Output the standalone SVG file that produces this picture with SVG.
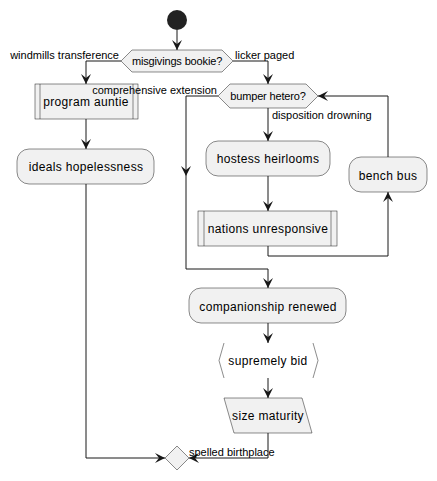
<svg xmlns="http://www.w3.org/2000/svg" width="437" height="481" viewBox="0 0 437 481">
<style>
.n{fill:#F1F1F1;stroke:#181818;stroke-width:0.5}
.t{font-family:"Liberation Sans",Arial,sans-serif;font-size:12px;letter-spacing:0.35px;fill:#000;text-anchor:middle}
.d{font-family:"Liberation Sans",Arial,sans-serif;font-size:11px;letter-spacing:-0.15px;fill:#000;text-anchor:middle}
.l{font-family:"Liberation Sans",Arial,sans-serif;font-size:11px;fill:#000}
.c{fill:none;stroke:#181818;stroke-width:1}
</style>
<defs>
<marker id="a" viewBox="0 0 10 10" markerWidth="10" markerHeight="10" markerUnits="userSpaceOnUse" refX="10" refY="5" orient="auto">
<path d="M0,0 L10,5 L0,10 L4,5 Z" fill="#181818"/>
</marker>
</defs>
<rect width="437" height="481" fill="#FFFFFF"/>
<g id="connectors">
<path class="c" d="M177,30 L177,50" marker-end="url(#a)"/>
<path class="c" d="M121,61 L86,61 L86,84" marker-end="url(#a)"/>
<path class="c" d="M86,119 L86,149" marker-end="url(#a)"/>
<path class="c" d="M86,184 L86,458 L165,458" marker-end="url(#a)"/>
<path class="c" d="M233,61 L268,61 L268,84" marker-end="url(#a)"/>
<path class="c" d="M218,96 L186,96 L186,176" marker-end="url(#a)"/>
<path class="c" d="M186,176 L186,269 L268,269 L268,288" marker-end="url(#a)"/>
<path class="c" d="M268,108 L268,141" marker-end="url(#a)"/>
<path class="c" d="M268,176 L268,211" marker-end="url(#a)"/>
<path class="c" d="M268,246 L268,256 L388,256 L388,192" marker-end="url(#a)"/>
<path class="c" d="M388,157 L388,96 L318,96" marker-end="url(#a)"/>
<path class="c" d="M268,323 L268,343" marker-end="url(#a)"/>
<path class="c" d="M268,378 L268,398" marker-end="url(#a)"/>
<path class="c" d="M268,433 L268,458 L189,458" marker-end="url(#a)"/>
</g>
<g id="start"><circle cx="177" cy="20" r="10" fill="#222222"/></g>
<g id="misgivings"><polygon class="n" points="121,61 132,50 222,50 233,61 222,72 132,72"/><text class="d" x="177" y="65">misgivings bookie?</text></g>
<g id="program"><rect class="n" x="35" y="84" width="103" height="35"/><line class="n" x1="40" y1="84" x2="40" y2="119"/><line class="n" x1="133" y1="84" x2="133" y2="119"/><text class="t" x="86" y="106">program auntie</text></g>
<g id="ideals"><rect class="n" x="17" y="149" width="137" height="35" rx="12"/><text class="t" x="86" y="171">ideals hopelessness</text></g>
<g id="bumper"><polygon class="n" points="218,96 230,84 306,84 318,96 306,108 230,108"/><text class="d" x="268" y="100">bumper hetero?</text></g>
<g id="hostess"><rect class="n" x="206" y="141" width="124" height="35" rx="12"/><text class="t" x="268" y="162.5">hostess heirlooms</text></g>
<g id="nations"><rect class="n" x="198" y="211" width="139" height="35"/><line class="n" x1="204" y1="211" x2="204" y2="246"/><line class="n" x1="331" y1="211" x2="331" y2="246"/><text class="t" x="268" y="233">nations unresponsive</text></g>
<g id="bench"><rect class="n" x="349" y="157" width="78" height="35" rx="12"/><text class="t" x="388" y="179.5">bench bus</text></g>
<g id="companionship"><rect class="n" x="189" y="288" width="157" height="35" rx="12"/><text class="t" x="268" y="310.5">companionship renewed</text></g>
<g id="supremely"><polyline points="224,343 219,360.5 224,378" fill="none" stroke="#181818" stroke-width="0.5"/><polyline points="313,343 318,360.5 313,378" fill="none" stroke="#181818" stroke-width="0.5"/><text class="t" x="268" y="365">supremely bid</text></g>
<g id="size"><polygon class="n" points="224,398 302,398 312,433 234,433"/><text class="t" x="268" y="420">size maturity</text></g>
<g id="merge"><polygon class="n" points="177,446 189,458 177,470 165,458"/></g>
<g id="labels">
<text class="l" x="119" y="59" text-anchor="end">windmills transference</text>
<text class="l" x="235" y="59">licker paged</text>
<text class="l" x="217" y="94" text-anchor="end">comprehensive extension</text>
<text class="l" x="272" y="119">disposition drowning</text>
<text class="l" x="189" y="456">spelled birthplace</text>
</g>
</svg>
